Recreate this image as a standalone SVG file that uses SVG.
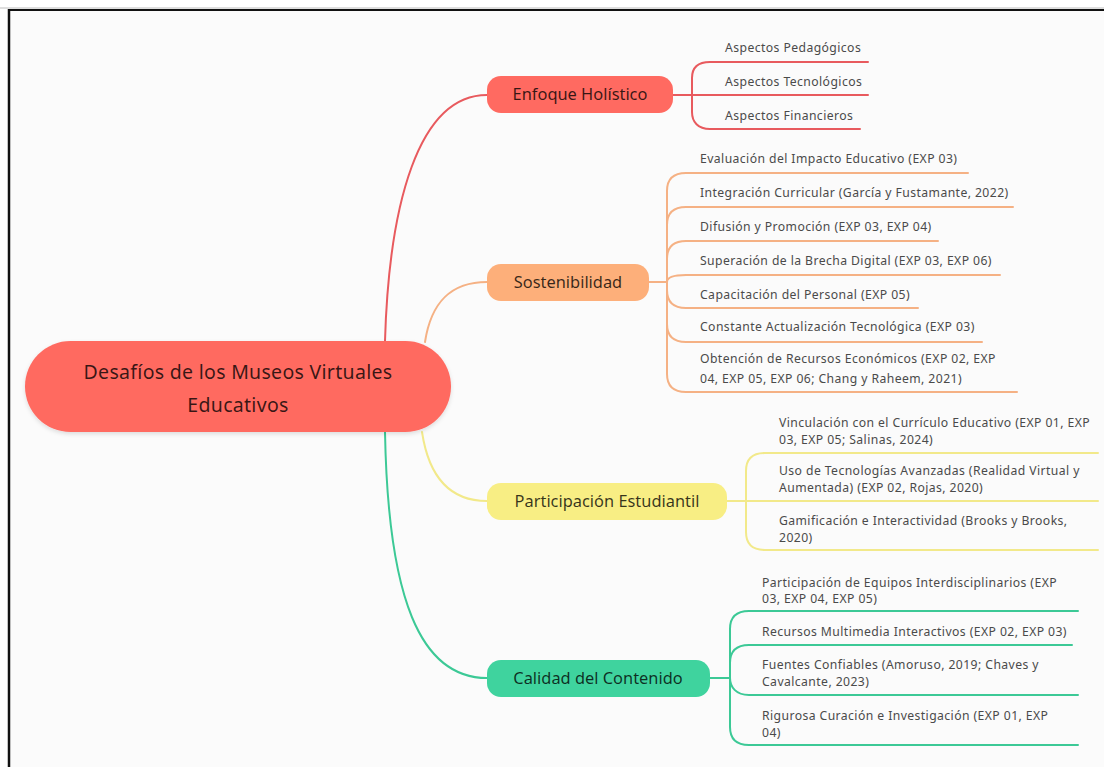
<svg xmlns="http://www.w3.org/2000/svg" width="1104" height="767" viewBox="0 0 1104 767">
  <style>
    .node-text { font-family: "Noto Sans", "Liberation Sans", sans-serif; fill: #000; fill-opacity: 0.78; text-anchor: middle; }
    .branch-text { font-size: 16.4px; }
    .root-text { font-size: 19.5px; letter-spacing: 0.3px; }
    .leaf { font-family: "Noto Sans", "Liberation Sans", sans-serif; font-size: 12.2px; letter-spacing: 0.42px; fill: #4a4a4a; }
    .conn { fill: none; stroke-width: 2; stroke-linecap: round; }
    .red { stroke: #E85A5E; }
    .orange { stroke: #F5B184; }
    .yellow { stroke: #F2E98A; }
    .green { stroke: #3CC996; }
  </style>
  <defs>
    <filter id="soft" x="-10%" y="-20%" width="120%" height="150%">
      <feDropShadow dx="0" dy="2" stdDeviation="2" flood-color="#000" flood-opacity="0.12"/>
    </filter>
  </defs>

  <!-- page and frame -->
  <rect x="0" y="0" width="1104" height="767" fill="#ffffff"/>
  <rect x="9" y="9" width="1095" height="758" fill="#FBFBFB"/>
  <line x1="0" y1="8" x2="1104" y2="8" stroke="#bdbdbd" stroke-width="1"/>
  <line x1="8" y1="10" x2="1104" y2="10" stroke="#111" stroke-width="2"/>
  <line x1="9" y1="9" x2="9" y2="767" stroke="#111" stroke-width="2.5"/>

  <!-- connectors -->
  <g id="connectors">
    <!-- root to branches -->
    <path class="conn red" d="M385 341 C389 205 418 95 487 95"/>
    <path class="conn orange" d="M425 342 C431 303 450 282 487 282"/>
    <path class="conn yellow" d="M422 432 C429 478 450 501 487 501"/>
    <path class="conn green" d="M385 432 C388 598 420 678 487 678"/>

    <!-- Enfoque Holístico leaves -->
    <path class="conn red" d="M673 95 H692"/>
    <path class="conn red" d="M692 95 V78 C692 68 698 62 710 62 H868"/>
    <path class="conn red" d="M692 95 H868"/>
    <path class="conn red" d="M692 95 V112 C692 122 698 129 710 129 H860"/>

    <!-- Sostenibilidad leaves -->
    <path class="conn orange" d="M649 282 H667"/>
    <path class="conn orange" d="M667 282 V191 C667 180 673 173 686 173 H968"/>
    <path class="conn orange" d="M667 282 V225 C667 214 673 207 686 207 H1013"/>
    <path class="conn orange" d="M667 282 V259 C667 248 673 241 686 241 H938"/>
    <path class="conn orange" d="M667 282 C667 278 671 275 686 275 H1000"/>
    <path class="conn orange" d="M667 282 V290 C667 301 673 308 686 308 H918"/>
    <path class="conn orange" d="M667 282 V324 C667 335 673 342 686 342 H982"/>
    <path class="conn orange" d="M667 282 V374 C667 385 673 392 686 392 H1017"/>

    <!-- Participación Estudiantil leaves -->
    <path class="conn yellow" d="M727 501 H746"/>
    <path class="conn yellow" d="M746 501 V471 C746 460 752 453 765 453 H1098"/>
    <path class="conn yellow" d="M746 501 H1098"/>
    <path class="conn yellow" d="M746 501 V532 C746 543 752 550 765 550 H1098"/>

    <!-- Calidad del Contenido leaves -->
    <path class="conn green" d="M710 678 H730"/>
    <path class="conn green" d="M730 678 V629 C730 618 736 611 749 611 H1078"/>
    <path class="conn green" d="M730 678 V663 C730 652 736 645 749 645 H1072"/>
    <path class="conn green" d="M730 678 C730 687 736 695 749 695 H1078"/>
    <path class="conn green" d="M730 678 V727 C730 738 736 745 749 745 H1078"/>
  </g>

  <!-- root node -->
  <g id="root">
    <rect x="25" y="341" width="426" height="91" rx="45.5" fill="#FF6A61" filter="url(#soft)"/>
    <text class="node-text root-text" x="238" y="379">Desafíos de los Museos Virtuales</text>
    <text class="node-text root-text" x="238" y="412">Educativos</text>
  </g>

  <!-- branch nodes -->
  <g id="enfoque">
    <rect x="487" y="76" width="186" height="37" rx="14" fill="#FF6A61"/>
    <text class="node-text branch-text" x="580" y="100">Enfoque Holístico</text>
  </g>
  <g id="sostenibilidad">
    <rect x="487" y="264" width="162" height="37" rx="14" fill="#FDAF7A"/>
    <text class="node-text branch-text" x="568" y="288">Sostenibilidad</text>
  </g>
  <g id="participacion">
    <rect x="487" y="483" width="240" height="37" rx="14" fill="#F8EE84"/>
    <text class="node-text branch-text" x="607" y="507">Participación Estudiantil</text>
  </g>
  <g id="calidad">
    <rect x="487" y="660" width="223" height="37" rx="14" fill="#3FD39E"/>
    <text class="node-text branch-text" x="598" y="684">Calidad del Contenido</text>
  </g>

  <!-- leaves: Enfoque Holístico -->
  <g id="enfoque-leaves">
    <text class="leaf" x="725" y="52">Aspectos Pedagógicos</text>
    <text class="leaf" x="725" y="86">Aspectos Tecnológicos</text>
    <text class="leaf" x="725" y="120">Aspectos Financieros</text>
  </g>

  <!-- leaves: Sostenibilidad -->
  <g id="sostenibilidad-leaves">
    <text class="leaf" x="700" y="163">Evaluación del Impacto Educativo (EXP 03)</text>
    <text class="leaf" x="700" y="197">Integración Curricular (García y Fustamante, 2022)</text>
    <text class="leaf" x="700" y="231">Difusión y Promoción (EXP 03, EXP 04)</text>
    <text class="leaf" x="700" y="265">Superación de la Brecha Digital (EXP 03, EXP 06)</text>
    <text class="leaf" x="700" y="299">Capacitación del Personal (EXP 05)</text>
    <text class="leaf" x="700" y="331">Constante Actualización Tecnológica (EXP 03)</text>
    <text class="leaf" x="700" y="363">Obtención de Recursos Económicos (EXP 02, EXP</text>
    <text class="leaf" x="700" y="383">04, EXP 05, EXP 06; Chang y Raheem, 2021)</text>
  </g>

  <!-- leaves: Participación Estudiantil -->
  <g id="participacion-leaves">
    <text class="leaf" x="779" y="427">Vinculación con el Currículo Educativo (EXP 01, EXP</text>
    <text class="leaf" x="779" y="444">03, EXP 05; Salinas, 2024)</text>
    <text class="leaf" x="779" y="475">Uso de Tecnologías Avanzadas (Realidad Virtual y</text>
    <text class="leaf" x="779" y="492">Aumentada) (EXP 02, Rojas, 2020)</text>
    <text class="leaf" x="779" y="525">Gamificación e Interactividad (Brooks y Brooks,</text>
    <text class="leaf" x="779" y="542">2020)</text>
  </g>

  <!-- leaves: Calidad del Contenido -->
  <g id="calidad-leaves">
    <text class="leaf" x="762" y="587">Participación de Equipos Interdisciplinarios (EXP</text>
    <text class="leaf" x="762" y="603">03, EXP 04, EXP 05)</text>
    <text class="leaf" x="762" y="636">Recursos Multimedia Interactivos (EXP 02, EXP 03)</text>
    <text class="leaf" x="762" y="669">Fuentes Confiables (Amoruso, 2019; Chaves y</text>
    <text class="leaf" x="762" y="686">Cavalcante, 2023)</text>
    <text class="leaf" x="762" y="720">Rigurosa Curación e Investigación (EXP 01, EXP</text>
    <text class="leaf" x="762" y="737">04)</text>
  </g>
</svg>
